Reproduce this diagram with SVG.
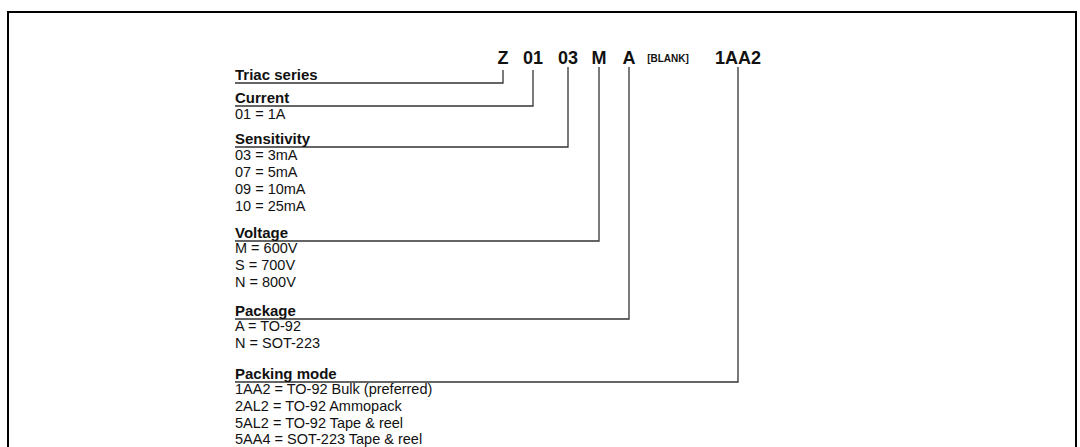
<svg xmlns="http://www.w3.org/2000/svg" width="1080" height="447" viewBox="0 0 1080 447">
<style>
text{font-family:"Liberation Sans",Arial,sans-serif;fill:#111}
.h{font-weight:bold;font-size:15px}
.t{font-size:14.5px}
.c{font-weight:bold;font-size:18px;text-anchor:middle}
.s{font-weight:bold;font-size:10px;text-anchor:middle}
.ln{fill:none;stroke:#333;stroke-width:1.3}
.fr{fill:none;stroke:#000;stroke-width:2}
</style>
<rect width="1080" height="447" fill="#fff"/>
<path class="fr" d="M8,447 V12 H1076 V447"/>
<g id="code">
<text class="c" x="503" y="64">Z</text>
<text class="c" x="533" y="64">01</text>
<text class="c" x="568" y="64">03</text>
<text class="c" x="599" y="64">M</text>
<text class="c" x="629" y="64">A</text>
<text class="s" x="668" y="62">[BLANK]</text>
<text class="c" x="738" y="64">1AA2</text>
</g>
<g id="connectors">
<path class="ln" d="M503,70 V83 H235"/>
<path class="ln" d="M533,70 V106 H235"/>
<path class="ln" d="M568,67 V147 H235"/>
<path class="ln" d="M599,67 V241 H235"/>
<path class="ln" d="M629,67 V319 H235"/>
<path class="ln" d="M738,67 V382 H235"/>
</g>
<g id="triac">
<text class="h" x="235" y="80">Triac series</text>
</g>
<g id="current">
<text class="h" x="235" y="103">Current</text>
<text class="t" x="235" y="119">01 = 1A</text>
</g>
<g id="sensitivity">
<text class="h" x="235" y="144">Sensitivity</text>
<text class="t" x="235" y="160">03 = 3mA</text>
<text class="t" x="235" y="177">07 = 5mA</text>
<text class="t" x="235" y="194">09 = 10mA</text>
<text class="t" x="235" y="211">10 = 25mA</text>
</g>
<g id="voltage">
<text class="h" x="235" y="238">Voltage</text>
<text class="t" x="235" y="253">M = 600V</text>
<text class="t" x="235" y="270">S = 700V</text>
<text class="t" x="235" y="287">N = 800V</text>
</g>
<g id="package">
<text class="h" x="235" y="316">Package</text>
<text class="t" x="235" y="331">A = TO-92</text>
<text class="t" x="235" y="348">N = SOT-223</text>
</g>
<g id="packing">
<text class="h" x="235" y="379">Packing mode</text>
<text class="t" x="235" y="394">1AA2 = TO-92 Bulk (preferred)</text>
<text class="t" x="235" y="411">2AL2 = TO-92 Ammopack</text>
<text class="t" x="235" y="428">5AL2 = TO-92 Tape &amp; reel</text>
<text class="t" x="235" y="444">5AA4 = SOT-223 Tape &amp; reel</text>
</g>
</svg>
